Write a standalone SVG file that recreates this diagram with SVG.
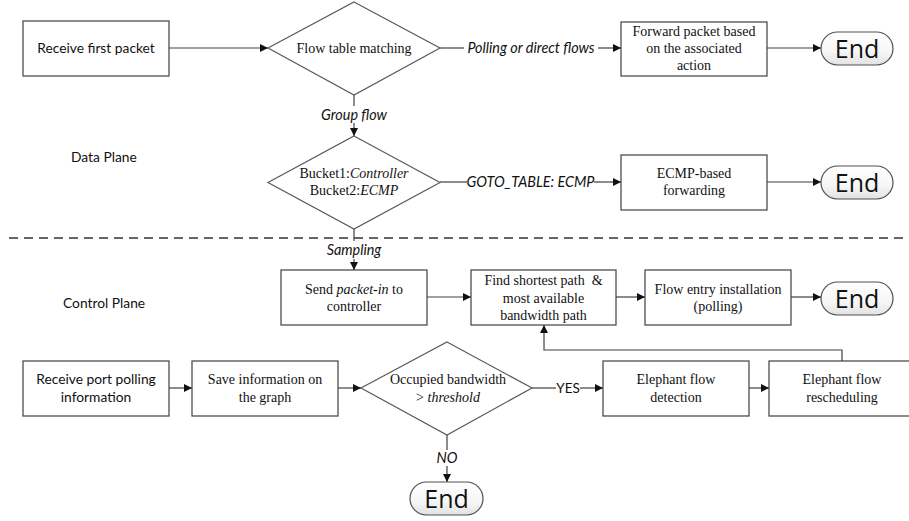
<svg xmlns="http://www.w3.org/2000/svg" width="909" height="521" viewBox="0 0 909 521">
  <defs>
    <marker id="arr" viewBox="0 0 10 10" refX="10" refY="5" markerWidth="9" markerHeight="8" markerUnits="userSpaceOnUse" orient="auto">
      <path d="M0,0 L10,5 L0,10 z" fill="#111"/>
    </marker>
    <linearGradient id="endfill" x1="0" y1="0" x2="0" y2="1">
      <stop offset="0" stop-color="#ffffff"/>
      <stop offset="0.6" stop-color="#f6f6f6"/>
      <stop offset="1" stop-color="#e2e2e2"/>
    </linearGradient>
    <style>
      .box { fill: #fff; stroke: #404040; stroke-width: 1.2; }
      .dia { fill: #fff; stroke: #5a5a5a; stroke-width: 1.2; }
      .end { fill: url(#endfill); stroke: #505050; stroke-width: 1.2; }
      .ln { fill: none; stroke: #404040; stroke-width: 1.2; }
      .serif { font-family: "Liberation Serif", "Times New Roman", serif; font-size: 14px; fill: #111; text-anchor: middle; }
      .sans { font-family: Lato, "Noto Sans", sans-serif; font-size: 13.8px; fill: #111; text-anchor: middle; }
      .lbl { font-family: Lato, "Noto Sans", sans-serif; font-size: 14.4px; font-style: italic; fill: #111; text-anchor: middle; }
      .lbl.up { font-style: normal; font-size: 13.5px; }
      .endt { font-family: "Open Sans", "DejaVu Sans", sans-serif; font-size: 25px; fill: #111; text-anchor: middle; }
      .plane { font-family: Lato, "Noto Sans", sans-serif; font-size: 13.8px; fill: #111; }
    </style>
  </defs>

  <!-- plane separator -->
  <line x1="9" y1="238" x2="909" y2="238" stroke="#333" stroke-width="1.3" stroke-dasharray="9 6"/>
  <text class="plane" x="71" y="162">Data Plane</text>
  <text class="plane" x="63" y="308">Control Plane</text>

  <!-- connectors -->
  <g id="connectors">
    <line class="ln" x1="169" y1="48" x2="268" y2="48" marker-end="url(#arr)"/>
    <line class="ln" x1="440" y1="48" x2="464" y2="48"/>
    <line class="ln" x1="598" y1="48" x2="621" y2="48" marker-end="url(#arr)"/>
    <line class="ln" x1="767" y1="48" x2="821" y2="48" marker-end="url(#arr)"/>
    <line class="ln" x1="354" y1="95" x2="354" y2="106"/>
    <line class="ln" x1="354" y1="123" x2="354" y2="136" marker-end="url(#arr)"/>
    <line class="ln" x1="440" y1="182" x2="467" y2="182"/>
    <line class="ln" x1="594" y1="182" x2="621" y2="182" marker-end="url(#arr)"/>
    <line class="ln" x1="767" y1="182" x2="821" y2="182" marker-end="url(#arr)"/>
    <line class="ln" x1="354" y1="229" x2="354" y2="241"/>
    <line class="ln" x1="354" y1="259" x2="354" y2="270" marker-end="url(#arr)"/>
    <line class="ln" x1="427" y1="297" x2="471" y2="297" marker-end="url(#arr)"/>
    <line class="ln" x1="616" y1="297" x2="645" y2="297" marker-end="url(#arr)"/>
    <line class="ln" x1="791" y1="297" x2="821" y2="297" marker-end="url(#arr)"/>
    <line class="ln" x1="169" y1="388" x2="192" y2="388" marker-end="url(#arr)"/>
    <line class="ln" x1="338" y1="388" x2="361" y2="388" marker-end="url(#arr)"/>
    <line class="ln" x1="532" y1="388" x2="556" y2="388"/>
    <line class="ln" x1="580" y1="388" x2="603" y2="388" marker-end="url(#arr)"/>
    <line class="ln" x1="749" y1="388" x2="769" y2="388" marker-end="url(#arr)"/>
    <polyline class="ln" points="842,361 842,350 544,350 544,325" marker-end="url(#arr)"/>
    <line class="ln" x1="447" y1="435" x2="447" y2="450"/>
    <line class="ln" x1="447" y1="466" x2="447" y2="482" marker-end="url(#arr)"/>

    <text class="lbl" x="531" y="53">Polling or direct flows</text>
    <text class="lbl" x="354" y="120">Group flow</text>
    <text class="lbl" x="530.5" y="187">GOTO_TABLE: ECMP</text>
    <text class="lbl" x="354" y="255">Sampling</text>
    <text class="lbl up" x="568" y="393">YES</text>
    <text class="lbl" x="447" y="463" font-size="13.5px">NO</text>
  </g>

  <!-- data plane -->
  <g id="receive-first">
    <rect class="box" x="23" y="21" width="146" height="55"/>
    <text class="sans" x="96" y="53">Receive first packet</text>
  </g>
  <g id="flow-table">
    <polygon class="dia" points="354,2 440,48 354,95 268,48"/>
    <text class="serif" x="354" y="53">Flow table matching</text>
  </g>
  <g id="forward">
    <rect class="box" x="621" y="22" width="146" height="54"/>
    <text class="serif" x="694" y="36">Forward packet based</text>
    <text class="serif" x="694" y="53">on the associated</text>
    <text class="serif" x="694" y="70">action</text>
  </g>
  <g id="end1">
    <rect class="end" x="821" y="32" width="72" height="33" rx="16.5"/>
    <text class="endt" x="857" y="57.5">End</text>
  </g>
  <g id="buckets">
    <polygon class="dia" points="354,136 440,182.5 354,229 268,182.5"/>
    <text class="serif" x="354" y="178">Bucket1:<tspan font-style="italic">Controller</tspan></text>
    <text class="serif" x="354" y="195">Bucket2:<tspan font-style="italic">ECMP</tspan></text>
  </g>
  <g id="ecmp">
    <rect class="box" x="621" y="155" width="146" height="55"/>
    <text class="serif" x="694" y="178">ECMP-based</text>
    <text class="serif" x="694" y="195">forwarding</text>
  </g>
  <g id="end2">
    <rect class="end" x="821" y="166" width="72" height="33" rx="16.5"/>
    <text class="endt" x="857" y="191.5">End</text>
  </g>

  <!-- control plane -->
  <g id="packet-in">
    <rect class="box" x="281" y="270" width="146" height="55"/>
    <text class="serif" x="354" y="294">Send <tspan font-style="italic">packet-in</tspan> to</text>
    <text class="serif" x="354" y="311">controller</text>
  </g>
  <g id="shortest-path">
    <rect class="box" x="471" y="270" width="145" height="55"/>
    <text class="serif" x="543.5" y="285" xml:space="preserve">Find shortest path  &amp;</text>
    <text class="serif" x="543.5" y="303">most available</text>
    <text class="serif" x="543.5" y="320">bandwidth path</text>
  </g>
  <g id="flow-entry">
    <rect class="box" x="645" y="270" width="146" height="55"/>
    <text class="serif" x="718" y="294">Flow entry installation</text>
    <text class="serif" x="718" y="311">(polling)</text>
  </g>
  <g id="end3">
    <rect class="end" x="821" y="282" width="72" height="33" rx="16.5"/>
    <text class="endt" x="857" y="307.5">End</text>
  </g>
  <g id="port-polling">
    <rect class="box" x="23" y="361" width="146" height="55"/>
    <text class="sans" x="96" y="384">Receive port polling</text>
    <text class="sans" x="96" y="402">information</text>
  </g>
  <g id="save-info">
    <rect class="box" x="192" y="361" width="146" height="55"/>
    <text class="serif" x="265" y="384">Save information on</text>
    <text class="serif" x="265" y="402">the graph</text>
  </g>
  <g id="bandwidth-check">
    <polygon class="dia" points="447,342 532,388 447,435 361,388"/>
    <text class="serif" x="448" y="384">Occupied bandwidth</text>
    <text class="serif" x="448" y="402">&gt; <tspan font-style="italic">threshold</tspan></text>
  </g>
  <g id="elephant-detect">
    <rect class="box" x="603" y="361" width="146" height="55"/>
    <text class="serif" x="676" y="384">Elephant flow</text>
    <text class="serif" x="676" y="402">detection</text>
  </g>
  <g id="elephant-resched">
    <rect class="box" x="769" y="361" width="146" height="55"/>
    <text class="serif" x="842" y="384">Elephant flow</text>
    <text class="serif" x="842" y="402">rescheduling</text>
  </g>
  <g id="end4">
    <rect class="end" x="410" y="482" width="73" height="33" rx="16.5"/>
    <text class="endt" x="446.5" y="507.5">End</text>
  </g>
</svg>
